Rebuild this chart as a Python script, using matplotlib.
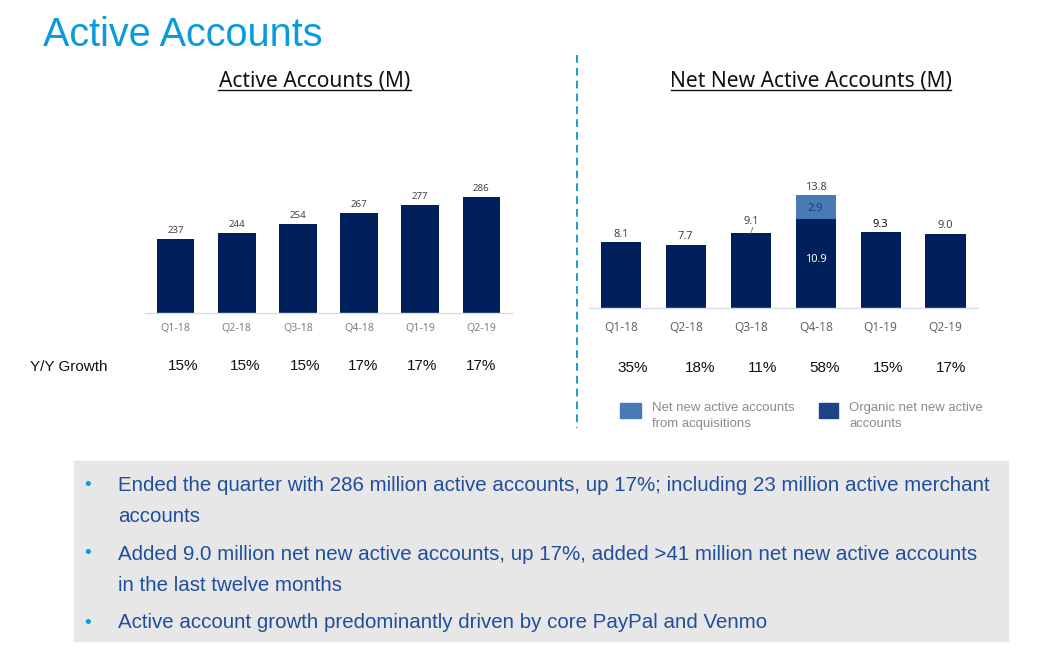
import matplotlib.pyplot as plt
from matplotlib.patches import Rectangle
from matplotlib.lines import Line2D

W, H = 1054, 661

quarters = ['Q1-18', 'Q2-18', 'Q3-18', 'Q4-18', 'Q1-19', 'Q2-19']
active_accounts = [237, 244, 254, 267, 277, 286]
active_growth = ['15%', '15%', '15%', '17%', '17%', '17%']
net_total = [8.1, 7.7, 9.1, 13.8, 9.3, 9.0]
net_organic = [8.1, 7.7, 9.1, 10.9, 9.3, 9.0]
net_acquired = [0, 0, 0, 2.9, 0, 0]
net_growth = ['35%', '18%', '11%', '58%', '15%', '17%']
bullets = [
    'Ended the quarter with 286 million active accounts, up 17%; including 23 million active merchant\naccounts',
    'Added 9.0 million net new active accounts, up 17%, added >41 million net new active accounts\nin the last twelve months',
    'Active account growth predominantly driven by core PayPal and Venmo',
]

NAVY = '#00205b'
LIGHT = '#4a7ab5'
SANS = 'Liberation Sans'
HUMAN = 'Noto Sans'


def fx(px):
    return px / W


def fy(px):
    return 1 - px / H


def put(x, y, s, **kw):
    fig.text(fx(x), fy(y), s, **kw)


def px_axes(left, right, top, bottom):
    ax = fig.add_axes([fx(left), fy(bottom), (right - left) / W, (bottom - top) / H])
    ax.patch.set_alpha(0)
    for name in ['top', 'left', 'right']:
        ax.spines[name].set_visible(False)
    ax.spines['bottom'].set_color('#d9dde3')
    ax.spines['bottom'].set_linewidth(1.0)
    ax.set_yticks([])
    ax.set_xlim(-0.5, 5.5)
    ax.set_xticks(range(6))
    ax.tick_params(axis='x', length=0)
    return ax


fig = plt.figure(figsize=(W / 100, H / 100), dpi=100)

put(43, 35, 'Active Accounts', family=SANS, fontsize=28.5, color='#0a9bdc', va='center')

# sub titles
put(315, 81, 'Active Accounts (M)', family=HUMAN, fontsize=15.1, color='#111111', ha='center', va='center')
put(811, 81, 'Net New Active Accounts (M)', family=HUMAN, fontsize=15.1, color='#111111', ha='center', va='center')
for x0, x1 in [(218, 411), (671, 951)]:
    fig.add_artist(Line2D([fx(x0), fx(x1)], [fy(90), fy(90)], color='#111111', lw=1.0))

# divider
fig.add_artist(Line2D([fx(577), fx(577)], [fy(55), fy(428)], color='#1a9dc9', lw=1.4, ls=(0, (4, 2.6))))

# left chart
ax1 = px_axes(145, 512, 180, 313)
ax1.set_ylim(150, 150 + 133 / 0.851)
bars = ax1.bar(range(6), active_accounts, width=0.615, color=NAVY)
ax1.bar_label(bars, padding=3, family=HUMAN, fontsize=7, color='#444444')
ax1.set_xticklabels(quarters, family=HUMAN, fontsize=7.6, color='#7f7f7f')
ax1.tick_params(axis='x', pad=7.2)

# right chart
ax2 = px_axes(588.5, 978, 175, 308)
ax2.set_ylim(0, 133 / 8.19)
ax2.bar(range(6), net_organic, width=0.62, color=NAVY)
ax2.bar(range(6), net_acquired, bottom=net_organic, width=0.62, color=LIGHT)
label_pad = [1.5, 2.2, 4.5, 1.5, 1.0, 2.2]
for i, v in enumerate(net_total):
    dark = '#111111' if v == 9.3 else '#444444'
    ax2.annotate(f'{v:.1f}', (i, v), xytext=(0, label_pad[i]), textcoords='offset points', ha='center', va='bottom',
                 family=HUMAN, fontsize=8, color=dark)
# small leader line under the 9.1 label
ax2.annotate('', (2, net_total[2]), xytext=(1.5, 4.5), textcoords='offset points',
             arrowprops=dict(arrowstyle='-', color='#777777', lw=0.6, shrinkA=0, shrinkB=0))
ax2.text(3, net_organic[3] + net_acquired[3] / 2 - 0.2, f'{net_acquired[3]:.1f}', ha='center', va='center',
         family=HUMAN, fontsize=8, color='#26406b')
ax2.text(3, net_organic[3] / 2 + 0.5, f'{net_organic[3]:.1f}', ha='center', va='center',
         family=HUMAN, fontsize=8, color='white')
ax2.set_xticklabels(quarters, family=HUMAN, fontsize=8.6, color='#666666')
ax2.tick_params(axis='x', pad=9.5)

# growth rows
put(30, 367, 'Y/Y Growth', family=SANS, fontsize=11, color='#111111', va='center')
for x, s in zip([182.7, 245, 305, 363, 422, 480.7], active_growth):
    put(x, 366.5, s, family=SANS, fontsize=11, color='#111111', ha='center', va='center')
for x, s in zip([632.7, 700, 763, 825, 888, 951], net_growth):
    put(x, 367.5, s, family=SANS, fontsize=11, color='#111111', ha='center', va='center')

# legend
fig.add_artist(Rectangle((fx(620), fy(418)), 21 / W, 15 / H, color=LIGHT, transform=fig.transFigure))
fig.add_artist(Rectangle((fx(819), fy(418)), 19 / W, 15 / H, color='#1c4587', transform=fig.transFigure))
put(652, 416, 'Net new active accounts\nfrom acquisitions', family=SANS, fontsize=9.45, color='#8c8c8c',
    va='center', linespacing=1.45)
put(849, 416, 'Organic net new active\naccounts', family=SANS, fontsize=9.45, color='#8c8c8c',
    va='center', linespacing=1.45)

# bullet box
fig.add_artist(Rectangle((fx(74), fy(641)), 934 / W, 180 / H, color='#e7e7e7', transform=fig.transFigure))
for y, s in zip([501, 570, 623], bullets):
    put(118, y, s, family=SANS, fontsize=14.8, color='#1f4e9c', va='center', linespacing=1.82)
for y in [485, 554, 623]:
    put(88, y, '•', family=SANS, fontsize=14, color='#0a9bdc', ha='center', va='center')

fig.savefig('out.png', dpi=100)
